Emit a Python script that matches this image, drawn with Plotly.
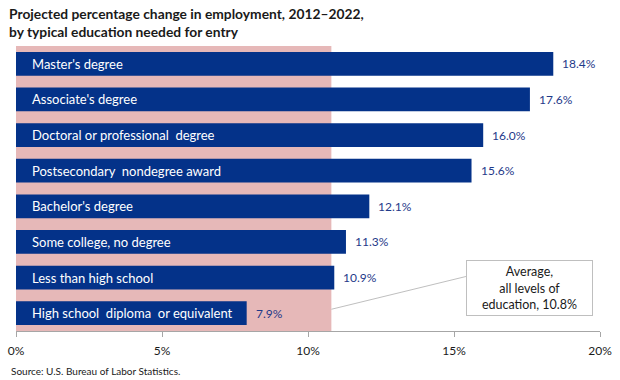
import plotly.graph_objects as go

categories = ["Master's degree", "Associate's degree", "Doctoral or professional  degree",
              "Postsecondary  nondegree award", "Bachelor's degree", "Some college, no degree",
              "Less than high school", "High school  diploma  or equivalent"]
values = [18.4, 17.6, 16.0, 15.6, 12.1, 11.3, 10.9, 7.9]
average = 10.8
tick_vals = [0, 5, 10, 15, 20]
tick_text = ["0%", "5%", "10%", "15%", "20%"]

FONT = "Lato, 'Open Sans', sans-serif"
BAR = "#043289"

fig = go.Figure()
fig.add_trace(go.Bar(
    x=values, y=categories, orientation="h",
    marker=dict(color=BAR, line=dict(width=0)),
    width=0.67, hoverinfo="skip",
))

fig.add_shape(type="rect", xref="x", yref="paper", x0=0, x1=average, y0=0, y1=1,
              fillcolor="#E6B8B8", line=dict(width=0), layer="below")

annotations = []
for c, v in zip(categories, values):
    annotations.append(dict(x=0, y=c, xref="x", yref="y", text=c, showarrow=False,
                            xanchor="left", xshift=14, font=dict(family=FONT, size=13, color="white")))
    annotations.append(dict(x=v, y=c, xref="x", yref="y", text=f"{v:.1f}%", showarrow=False,
                            xanchor="left", xshift=7, font=dict(family=FONT, size=12, color="#1F3A8A")))

fig.add_shape(type="line", xref="x", yref="y", x0=average, y0=6.89, x1=15.41, y1=5.97,
              line=dict(color="#BFBFBF", width=1))

annotations.append(dict(x=17.59, y=6.3, xref="x", yref="y",
                        text="Average,<br>all levels of<br>education, 10.8%",
                        showarrow=False, align="center",
                        font=dict(family=FONT, size=12.5, color="#1a1a1a"),
                        bordercolor="#BFBFBF", borderwidth=1, borderpad=4, bgcolor="white",
                        width=117, height=46))

annotations.append(dict(x=0, y=1, xref="paper", yref="paper", xanchor="left", yanchor="bottom",
                        xshift=-9, yshift=4,
                        text="<b>Projected percentage change in employment, 2012–2022,<br>by typical education needed for entry</b>",
                        showarrow=False, align="left",
                        font=dict(family=FONT, size=13.8, color="#1a1a1a")))
annotations.append(dict(x=0, y=0, xref="paper", yref="paper", xanchor="left", yanchor="top",
                        xshift=-7, yshift=-32, text="Source: U.S. Bureau of Labor Statistics.",
                        showarrow=False, font=dict(family=FONT, size=10, color="#1a1a1a")))

fig.update_layout(
    width=620, height=380, margin=dict(l=16, r=20, t=46, b=49, autoexpand=False),
    paper_bgcolor="white", plot_bgcolor="white", showlegend=False,
    annotations=annotations,
    xaxis=dict(range=[0, 20], tickvals=tick_vals, ticktext=tick_text, showgrid=False,
               zeroline=False, showline=True, linecolor="#A6A6A6", linewidth=1,
               ticks="outside", ticklen=5, tickcolor="#A6A6A6", automargin=False,
               ticklabelstandoff=4,
               tickfont=dict(family=FONT, size=12, color="#1a1a1a")),
    yaxis=dict(autorange="reversed", showticklabels=False, showgrid=False, zeroline=False,
               showline=False, ticks="", automargin=False),
)

fig.write_html("out.html", config={"displayModeBar": False},
               post_script="document.body.style.margin='0';document.body.style.overflow='hidden';")
